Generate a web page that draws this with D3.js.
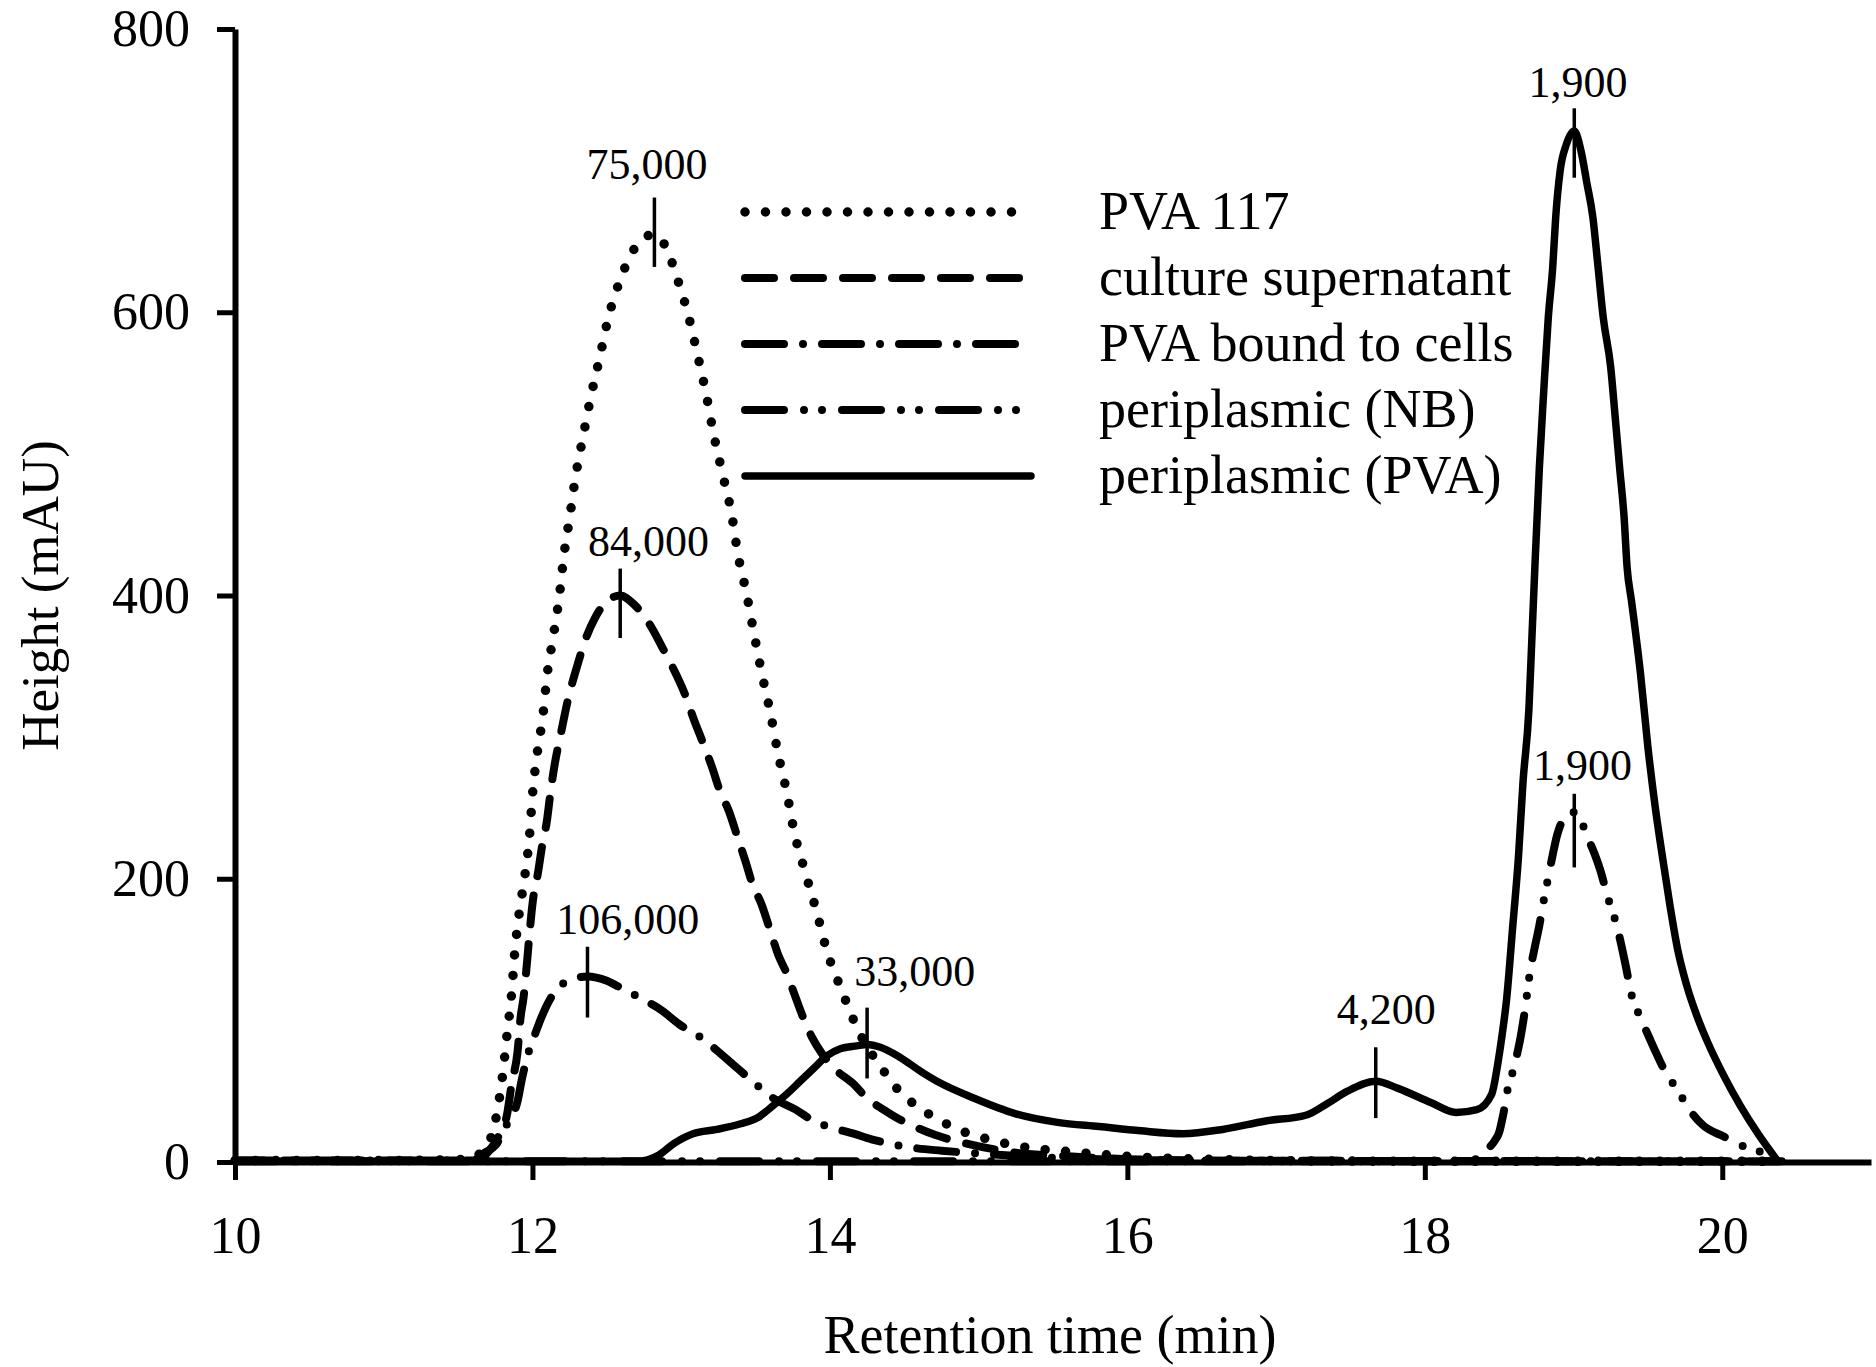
<!DOCTYPE html>
<html>
<head>
<meta charset="utf-8">
<script src="https://cdn.jsdelivr.net/npm/d3@7"></script>
<style>
  html, body { margin: 0; padding: 0; background: #fff; }
  svg { display: block; }
  text { font-family: "Liberation Serif", "Times New Roman", serif; fill: #000; }
</style>
</head>
<body>
<svg id="chart" width="1876" height="1367"></svg>
<script>
// ---------------- data ----------------
const xTicks = [10, 12, 14, 16, 18, 20];
const yTicks = [0, 200, 400, 600, 800];
const xTitle = "Retention time (min)";
const yTitle = "Height (mAU)";

const seriesNames = ["PVA 117", "culture supernatant", "PVA bound to cells", "periplasmic (NB)", "periplasmic (PVA)"];

// PVA 117 (dotted)
const pva117T = [10, 11, 11.6, 11.66, 11.73, 11.76, 11.8, 11.83, 11.86, 11.88, 11.91, 11.95, 11.98, 12.0, 12.03, 12.07, 12.1, 12.14, 12.18, 12.21, 12.25, 12.29, 12.34, 12.39, 12.45, 12.51, 12.59, 12.65, 12.73, 12.82, 12.91, 12.97, 13.05, 13.11, 13.17, 13.22, 13.28, 13.34, 13.38, 13.44, 13.49, 13.54, 13.6, 13.65, 13.71, 13.76, 13.83, 13.91, 13.98, 14.08, 14.19, 14.35, 14.45, 14.59, 14.73, 14.86, 15.0, 15.28, 15.64, 16.0, 16.5, 17.0, 18.0, 20.4];
const pva117V = [1, 1, 2, 8, 20, 34, 62, 91, 119, 147, 175, 203, 230, 259, 287, 315, 345, 371, 399, 427, 455, 484, 512, 539, 567, 596, 623, 638, 651, 655, 643, 625, 597, 570, 541, 513, 485, 457, 430, 401, 373, 346, 317, 289, 261, 233, 206, 177, 149, 121, 93, 66, 52, 39, 30, 23, 18, 11, 7, 4, 2, 1, 0.5, 0.5];

// culture supernatant (dashed)
const supT = [10, 11.6, 11.71, 11.78, 11.83, 11.86, 11.9, 11.92, 11.94, 11.96, 11.98, 12.0, 12.04, 12.06, 12.1, 12.12, 12.15, 12.19, 12.24, 12.3, 12.36, 12.42, 12.5, 12.59, 12.68, 12.78, 12.88, 12.93, 13.03, 13.08, 13.15, 13.21, 13.26, 13.32, 13.38, 13.43, 13.48, 13.54, 13.6, 13.65, 13.71, 13.77, 13.82, 13.88, 13.95, 14.02, 14.16, 14.25, 14.36, 14.47, 14.59, 14.71, 14.92, 15.22, 15.6, 16.0, 16.5, 20.4];
const supV = [1, 1, 8, 20, 34, 55, 78, 102, 116, 137, 161, 182, 206, 220, 243, 260, 281, 302, 327, 350, 370, 384, 396, 400, 394, 381, 362, 352, 329, 314, 295, 278, 262, 248, 229, 213, 196, 182, 163, 147, 133, 116, 102, 88, 76, 67, 55, 45, 37, 30, 24, 19, 13, 7, 4, 2, 1, 0.5];

// PVA bound to cells (dash-dot)
const boundT = [10, 11.6, 11.67, 11.76, 11.83, 11.9, 11.93, 11.97, 12.02, 12.06, 12.13, 12.24, 12.37, 12.5, 12.61, 12.74, 12.87, 12.99, 13.13, 13.26, 13.38, 13.48, 13.62, 13.77, 13.89, 14.02, 14.16, 14.28, 14.4, 14.56, 14.75, 15.0, 15.5, 16.0, 16.5, 20.4];
const boundV = [1, 1, 6, 13, 27, 43, 59, 76, 91, 102, 117, 128, 131, 128, 122, 115, 107, 97, 88, 77, 66, 57, 45, 37, 29, 24, 20, 16, 13, 10, 8, 6, 3, 1.5, 1, 0.5];

// periplasmic (NB) (dash-dot-dot)
const nbT = [10, 18.3, 18.41, 18.47, 18.5, 18.53, 18.57, 18.6, 18.62, 18.64, 18.67, 18.71, 18.74, 18.77, 18.8, 18.83, 18.86, 18.89, 18.92, 18.96, 19.0, 19.04, 19.07, 19.1, 19.14, 19.18, 19.23, 19.29, 19.35, 19.39, 19.45, 19.5, 19.56, 19.63, 19.7, 19.76, 19.87, 20.01, 20.12, 20.26, 20.37];
const nbV = [0.5, 0.5, 8, 15, 21, 35, 58, 66, 76, 86, 105, 136, 152, 167, 185, 201, 217, 231, 240, 246, 247, 243, 236, 228, 218, 206, 187, 167, 139, 118, 102, 90, 76, 61, 51, 40, 26, 18, 12, 7, 1];

// periplasmic (PVA) (solid)
const pvaT = [10, 12.7, 12.85, 12.95, 13.08, 13.24, 13.4, 13.51, 13.62, 13.71, 13.8, 13.89, 13.98, 14.07, 14.18, 14.25, 14.34, 14.47, 14.61, 14.72, 14.97, 15.25, 15.53, 15.81, 16.09, 16.37, 16.64, 16.93, 17.2, 17.34, 17.48, 17.67, 17.82, 18.04, 18.21, 18.35, 18.45, 18.49, 18.52, 18.55, 18.59, 18.63, 18.66, 18.7, 18.72, 18.74, 18.77, 18.8, 18.83, 18.86, 18.88, 18.91, 18.95, 19.005, 19.05, 19.09, 19.13, 19.16, 19.2, 19.25, 19.28, 19.31, 19.34, 19.36, 19.39, 19.45, 19.5, 19.55, 19.6, 19.65, 19.7, 19.76, 19.83, 19.9, 20.01, 20.12, 20.24, 20.37];
const pvaV = [0.5, 0.5, 5, 13, 20, 23, 27, 31, 40, 48, 57, 66, 75, 80, 82, 83, 81, 74, 64, 57, 45, 34, 28, 25, 22, 20, 23, 29, 33, 41, 50, 57, 52, 42, 35, 37, 48, 69, 90, 115, 165, 216, 268, 320, 370, 420, 490, 545, 596, 632, 667, 700, 718, 728, 714, 691, 667, 637, 596, 561, 526, 490, 455, 420, 396, 345, 293, 250, 214, 180, 150, 125, 103, 85, 61, 40, 20, 1];

// peak annotations: label, tick time, tick top/bottom heights, label centre time, label baseline height
const annLabels = ["75,000", "84,000", "106,000", "33,000", "4,200", "1,900", "1,900"];
const annTickT = [12.82, 12.59, 12.37, 14.25, 17.67, 19.005, 19.005];
const annTickTop = [681, 419, 152, 109, 81, 744, 260];
const annTickBot = [632, 370, 102, 59, 31, 695, 208];
const annLabelT = [12.77, 12.78, 12.64, 14.57, 17.74, 19.03, 19.06];
const annLabelV = [694, 428, 161, 124, 97.5, 752, 270];

// ---------------- drawing ----------------
const svg = d3.select("#chart");
const x = d3.scaleLinear().domain([10, 21]).range([235, 1871]);
const y = d3.scaleLinear().domain([0, 800]).range([1162, 29]);

const series = [
  { name: seriesNames[0], t: pva117T, v: pva117V, dash: "0 20.5", w: 9.5 },
  { name: seriesNames[1], t: supT, v: supV, dash: "29 20", w: 8 },
  { name: seriesNames[2], t: boundT, v: boundV, dash: "39 19 0 19", w: 8 },
  { name: seriesNames[3], t: nbT, v: nbV, dash: "39 20 0 18 0 20", w: 8 },
  { name: seriesNames[4], t: pvaT, v: pvaV, dash: null, w: 7.5 }
];

const line = d3.line()
  .x(d => x(d[0]))
  .y(d => y(d[1]))
  .curve(d3.curveMonotoneX);

// axes
const gx = svg.append("g").attr("transform", `translate(0,${y(0)})`)
  .call(d3.axisBottom(x).tickValues(xTicks).tickSize(18).tickSizeOuter(0).tickPadding(36));
const gy = svg.append("g").attr("transform", `translate(${x(10)},0)`)
  .call(d3.axisLeft(y).tickValues(yTicks).tickSize(18).tickSizeOuter(0).tickPadding(27));
[gx, gy].forEach(g => {
  g.select(".domain").attr("stroke", "#000").attr("stroke-width", 6);
  g.selectAll(".tick line").attr("stroke", "#000").attr("stroke-width", 5);
  g.selectAll(".tick text").attr("font-size", 52).attr("fill", "#000")
    .style("font-family", '"Liberation Serif", "Times New Roman", serif');
});

// series
series.forEach(s => {
  const pts = s.t.map((t, i) => [t, s.v[i]]);
  const p = svg.append("path")
    .attr("d", line(pts))
    .attr("fill", "none")
    .attr("stroke", "#000")
    .attr("stroke-width", s.w)
    .attr("stroke-linecap", "round")
    .attr("stroke-linejoin", "round");
  if (s.dash) p.attr("stroke-dasharray", s.dash);
});

// annotations
annLabels.forEach((lab, i) => {
  svg.append("line")
    .attr("x1", x(annTickT[i])).attr("x2", x(annTickT[i]))
    .attr("y1", y(annTickTop[i])).attr("y2", y(annTickBot[i]))
    .attr("stroke", "#000").attr("stroke-width", 3.5);
  svg.append("text")
    .attr("x", x(annLabelT[i])).attr("y", y(annLabelV[i]))
    .attr("text-anchor", "middle")
    .attr("font-size", 44)
    .text(lab);
});

// legend
const legX0 = 745, legX1 = 1031, legTextX = 1099, legY0 = 212, legDy = 66;
series.forEach((s, i) => {
  const yy = legY0 + i * legDy;
  const l = svg.append("line")
    .attr("x1", legX0).attr("x2", legX1).attr("y1", yy).attr("y2", yy)
    .attr("stroke", "#000").attr("stroke-width", s.w)
    .attr("stroke-linecap", "round");
  if (s.dash) l.attr("stroke-dasharray", s.dash);
  svg.append("text")
    .attr("x", legTextX).attr("y", yy + 17)
    .attr("font-size", 54)
    .text(s.name);
});

// axis titles
svg.append("text")
  .attr("x", 1050).attr("y", 1353)
  .attr("text-anchor", "middle")
  .attr("font-size", 54)
  .text(xTitle);
svg.append("text")
  .attr("transform", `translate(58,${(y(0) + y(800)) / 2}) rotate(-90)`)
  .attr("text-anchor", "middle")
  .attr("font-size", 53)
  .text(yTitle);
</script>
</body>
</html>
